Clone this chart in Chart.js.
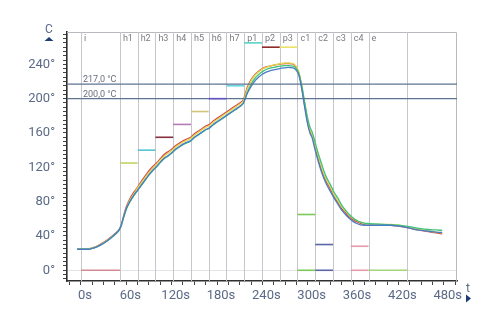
<!DOCTYPE html>
<html>
<head>
<meta charset="utf-8">
<script src="https://cdn.jsdelivr.net/npm/chart.js@4.4.1/dist/chart.umd.min.js"></script>
<style>
  html, body { margin: 0; padding: 0; background: #ffffff; }
  #wrap { width: 500px; height: 330px; }
</style>
</head>
<body>
<div id="wrap"><canvas id="chart" width="500" height="330"></canvas></div>
<script>
// Sample times (s) shared by all four probes
const timeS = [
  -5, 0, 5, 10, 15, 20, 25, 30, 35, 40, 45, 50,
  53, 56, 60, 65, 70, 75, 80, 85, 90, 95, 100,
  105, 110, 115, 120, 125, 130, 135, 140, 145, 150,
  155, 160, 165, 170, 175, 180, 185, 190, 195, 200,
  205, 210, 215, 220, 225, 230, 235, 240, 245, 250,
  255, 260, 265, 270, 275, 280, 284, 288, 292, 296,
  300, 303, 306, 309, 313, 317, 321, 325, 330, 335, 340,
  345, 350, 355, 360, 365, 370, 375, 380,
  390, 400, 410, 420, 430, 440, 450, 460, 470, 478
];

// Probe temperatures (°C)
const probeRed = [
  24.5, 24.5, 24.5, 25, 26, 27.5, 30, 32.5, 35.5, 39, 42.5, 47,
  52, 62, 74, 84, 91, 97, 104, 110, 116, 121, 125,
  130, 135, 138, 141, 145, 148, 151, 153, 155, 159,
  162, 165, 168, 170, 174, 177, 180, 183, 186, 189,
  192, 195, 199, 213, 222, 228, 232, 235, 237, 238,
  239, 240, 240.5, 241, 241, 240.5, 238, 231, 214, 192,
  172, 162, 157, 147, 133, 121, 111, 103, 95, 86, 79,
  72, 67, 62, 59, 56.5, 54.5, 53, 52.5,
  52.5, 52.5, 52.5, 51.5, 50, 48, 46.5, 45, 43.5, 42.5
];
const probeYellow = [
  24.5, 24.5, 24.5, 25, 26, 27.5, 29.5, 32, 35, 38.5, 42, 46.5,
  52, 61, 72, 82, 89, 96, 102, 108, 114, 119, 123.5,
  128.5, 133, 136.5, 139.5, 143.5, 146.5, 149.5, 151.5, 153.5, 157.5,
  160.5, 163.5, 166.5, 168.5, 172.5, 175.5, 178.5, 181.5, 184.5, 187.5,
  190.5, 193.5, 197.5, 211, 220.5, 227, 231, 234.5, 236.5, 238,
  239, 240, 241, 241.5, 241.5, 241, 238.5, 232, 216, 195,
  175, 164, 158, 149, 136, 124, 113, 105, 97, 88, 81,
  74, 69, 64, 60.5, 58, 56, 54.5, 54,
  53.5, 53.5, 53.5, 52.5, 51, 49, 47.5, 46, 44.5, 43.5
];
const probeGreen = [
  24.5, 24.5, 24.5, 24.5, 25.5, 27, 29, 31.5, 34.5, 38, 41.5, 46,
  51, 60, 71, 80, 87, 93, 99, 105, 111, 116, 120.5,
  125.5, 130, 133, 136.5, 140.5, 143.5, 146.5, 148.5, 150.5, 154.5,
  157.5, 160.5, 163.5, 165.5, 169.5, 172.5, 175.5, 178.5, 181.5, 184.5,
  187.5, 190.5, 195, 207, 216.5, 223.5, 228, 231.5, 234, 235.5,
  236.5, 237.5, 238, 238.5, 238.5, 238, 236, 230, 216, 196,
  177, 167, 161, 152, 139, 128, 117, 108, 100, 91, 84,
  76, 70, 65, 61, 58, 56, 55, 54.5,
  54, 53.5, 53, 52.5, 51.5, 50, 48.5, 47.5, 47, 46.5
];
const probeBlue = [
  24.5, 24.5, 24.5, 24.5, 25.5, 27, 29, 31.5, 34.5, 38, 42, 46.5,
  52, 61, 72, 80.5, 87.5, 93.5, 99.5, 105.5, 111.5, 116.5, 121,
  126, 130.5, 133.5, 137, 141, 144, 147, 149, 151, 155,
  158, 161, 164, 166, 170, 173, 176, 179, 182, 185,
  188, 191, 195, 206, 214, 220.5, 225, 228.5, 231, 232.5,
  233.5, 234.5, 235.5, 236, 236.5, 236, 234, 228, 212, 190,
  170, 160, 154, 143, 130, 118, 108, 100, 92, 84, 77,
  70, 65, 60.5, 57, 54.5, 53, 52.5, 52.5,
  52.5, 52.5, 52.5, 51.5, 50, 48, 46.5, 45.5, 44.5, 44
];

// Oven zones: names, boundaries (s), set points (°C)
const zoneNames = ['i', 'h1', 'h2', 'h3', 'h4', 'h5', 'h6', 'h7', 'p1', 'p2', 'p3', 'c1', 'c2', 'c3', 'c4', 'e'];
const zoneEdges = [0, 51.5, 75, 98.5, 122, 145.5, 169, 192.5, 216, 239.5, 263, 286.5, 310, 333.5, 357, 380.5, 432];
const zoneSetHigh = [0, 125, 140, 155, 170, 185, 200, 215, 265, 260, 260, 65, 30, null, 28, 0];
const zoneSetLow = [null, null, null, null, null, null, null, null, null, null, null, 0, 0, null, 0, null];
const zoneColors = ['#d38a94', '#bfd36a', '#55c3d2', '#86303e', '#b57ab8', '#d2c47a', '#6453c4', '#6ad6e4',
                    '#5ad2c4', '#8e2a2a', '#e9e36a', '#7cc85a', '#5a66a6', '#999999', '#e49aac', '#a6d47a'];

// Reference levels (°C)
const refLevels = [217, 200];

// Labelled ticks
const xLabelValues = [0, 60, 120, 180, 240, 300, 360, 420, 480];
const yLabelValues = [0, 40, 80, 120, 160, 200, 240];

const X_MIN = -18.5, X_MAX = 497.6;
const Y_MIN = -12.5, Y_MAX = 277.7;

const probeSeries = [
  { data: probeBlue, color: '#4a7cc4' },
  { data: probeGreen, color: '#3fc27c' },
  { data: probeYellow, color: '#e2d64c' },
  { data: probeRed, color: '#d64848' }
];

const datasets = [];

// Zone set-point marks
zoneNames.forEach((name, i) => {
  [zoneSetHigh[i], zoneSetLow[i]].forEach(v => {
    if (v === null) return;
    datasets.push({
      data: [{ x: zoneEdges[i], y: v }, { x: zoneEdges[i + 1], y: v }],
      borderColor: zoneColors[i], borderWidth: 1.6, pointRadius: 0, tension: 0
    });
  });
});

// Reference level lines
refLevels.forEach(v => {
  datasets.push({
    data: [{ x: X_MIN, y: v }, { x: X_MAX, y: v }],
    borderColor: '#5d7591', borderWidth: 1.2, pointRadius: 0, tension: 0
  });
});

// Probe curves
probeSeries.forEach(s => {
  datasets.push({
    data: timeS.map((t, k) => ({ x: t, y: s.data[k] })),
    borderColor: s.color, borderWidth: 1.3, pointRadius: 0,
    cubicInterpolationMode: 'monotone'
  });
});

const textColor = '#5b6a86';
const navy = '#1d3c74';

const decorPlugin = {
  id: 'decor',
  beforeDatasetsDraw(chart) {
    const { ctx, chartArea: a, scales: { x } } = chart;
    ctx.save();
    // frame (top and right)
    ctx.strokeStyle = '#b9b9c0';
    ctx.lineWidth = 1;
    ctx.beginPath();
    ctx.moveTo(a.left, a.top + 0.5);
    ctx.lineTo(a.right - 0.5, a.top + 0.5);
    ctx.lineTo(a.right - 0.5, a.bottom);
    ctx.stroke();
    // zone boundaries
    ctx.strokeStyle = '#c6c6cc';
    zoneEdges.forEach(e => {
      const px = Math.round(x.getPixelForValue(e)) + 0.5;
      ctx.beginPath();
      ctx.moveTo(px, a.top);
      ctx.lineTo(px, a.bottom);
      ctx.stroke();
    });
    // zone names
    ctx.fillStyle = '#7a7a80';
    ctx.font = '9px Roboto';
    ctx.textBaseline = 'top';
    ctx.textAlign = 'left';
    zoneNames.forEach((n, i) => {
      ctx.fillText(n, x.getPixelForValue(zoneEdges[i]) + 3, a.top + 2);
    });
    ctx.restore();
  },
  afterDraw(chart) {
    const { ctx, chartArea: a, scales: { x, y } } = chart;
    ctx.save();
    // reference level labels
    ctx.fillStyle = '#6a6f7c';
    ctx.font = '9px Roboto';
    ctx.textAlign = 'left';
    ctx.textBaseline = 'alphabetic';
    refLevels.forEach(v => {
      const label = v.toFixed(1).replace('.', ',') + ' °C';
      ctx.fillText(label, x.getPixelForValue(0) + 2, y.getPixelForValue(v) - 2);
    });
    // axis titles with arrows
    ctx.fillStyle = textColor;
    ctx.font = '12px Roboto';
    ctx.textAlign = 'center';
    ctx.fillText('C', 49, 33);
    ctx.fillText('t', 468, 292);
    ctx.fillStyle = navy;
    ctx.beginPath();
    ctx.moveTo(49, 37);
    ctx.lineTo(53.5, 41);
    ctx.lineTo(44.5, 41);
    ctx.closePath();
    ctx.fill();
    ctx.beginPath();
    ctx.moveTo(466, 294.5);
    ctx.lineTo(471, 298.5);
    ctx.lineTo(466, 302.5);
    ctx.closePath();
    ctx.fill();
    ctx.restore();
  }
};

const tickFont = { family: 'Roboto', size: 13 };

new Chart(document.getElementById('chart'), {
  type: 'line',
  data: { datasets },
  options: {
    responsive: false,
    animation: false,
    devicePixelRatio: 1,
    layout: { padding: { top: 32, right: 43, left: 0, bottom: 0 } },
    plugins: { legend: { display: false }, tooltip: { enabled: false } },
    scales: {
      x: {
        type: 'linear',
        min: X_MIN, max: X_MAX,
        afterBuildTicks(scale) {
          const t = [];
          for (let v = -15; v <= 495; v += 15) t.push({ value: v });
          scale.ticks = t;
        },
        afterFit(scale) { scale.height = 49; },
        grid: { drawOnChartArea: false, tickLength: 4, tickColor: '#444', tickWidth: 1 },
        border: { color: '#2f2f2f', width: 1.6 },
        ticks: {
          autoSkip: false, maxRotation: 0, padding: 3, labelOffset: 4,
          color: textColor, font: tickFont,
          callback: v => xLabelValues.includes(v) ? v + 's' : ''
        }
      },
      y: {
        type: 'linear',
        min: Y_MIN, max: Y_MAX,
        afterBuildTicks(scale) {
          const t = [];
          for (let v = -10; v <= 275; v += 5) t.push({ value: v });
          scale.ticks = t;
        },
        afterFit(scale) { scale.width = 67; },
        grid: {
          drawOnChartArea: true, tickLength: 4, tickColor: '#444', tickWidth: 1,
          color: c => (c.tick && c.tick.value === 0) ? '#e4e4e8' : 'rgba(0,0,0,0)'
        },
        border: { color: '#2f2f2f', width: 1.6 },
        ticks: {
          autoSkip: false, padding: 8,
          color: textColor, font: tickFont,
          callback: v => yLabelValues.includes(v) ? v + '°' : ''
        }
      }
    }
  },
  plugins: [decorPlugin]
});
</script>
</body>
</html>
